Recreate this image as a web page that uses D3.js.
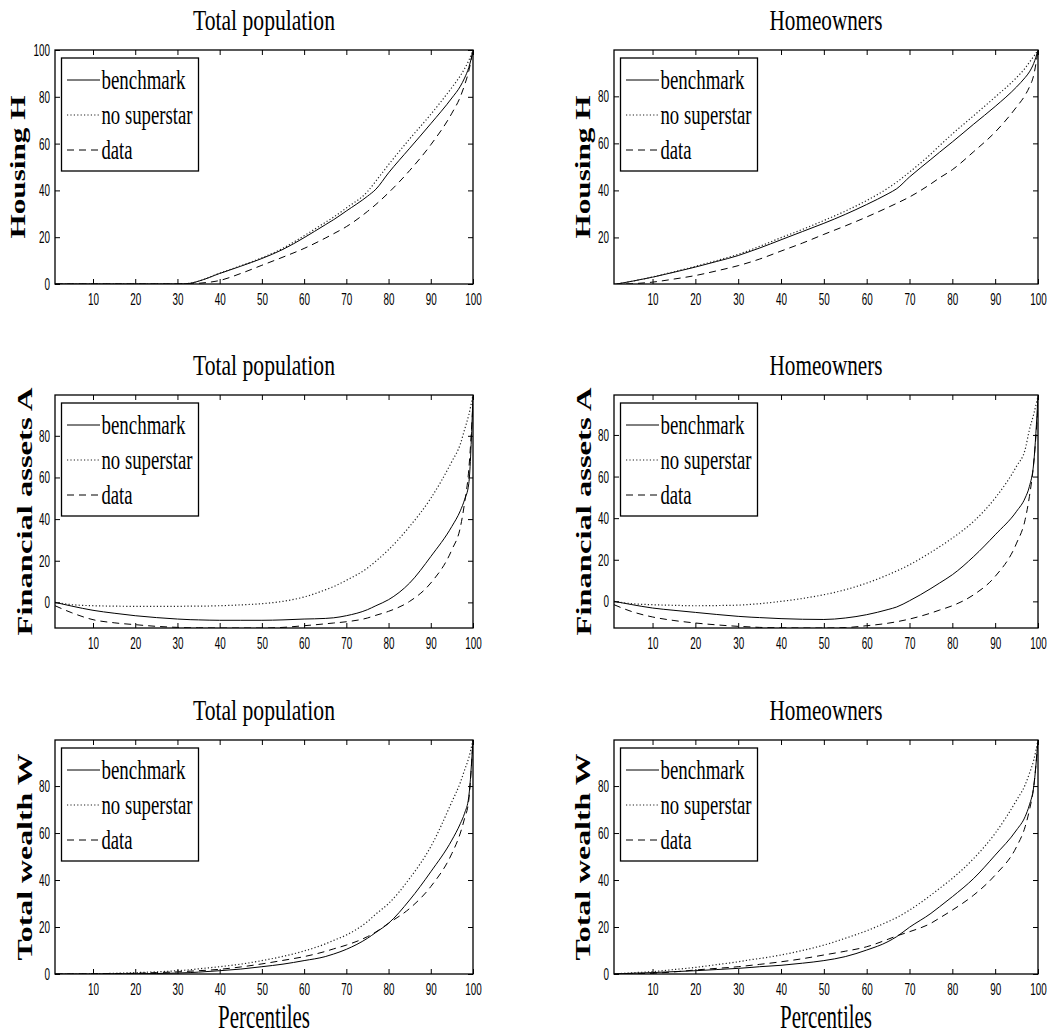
<!DOCTYPE html>
<html>
<head>
<meta charset="utf-8">
<script src="https://cdn.jsdelivr.net/npm/d3@7"></script>
<style>
  html, body { margin: 0; padding: 0; background: #fff; }
  svg { display: block; }
</style>
</head>
<body>
<svg id="chart" width="1052" height="1035"></svg>
<script>
// ---------------- DATA ----------------
const percentiles = [1, 5, 10, 15, 20, 25, 30, 33, 35, 40, 45, 50, 55, 60, 65, 67, 70, 75, 77, 80, 85, 90, 95, 97, 98, 99, 100];
const xTicks = [10, 20, 30, 40, 50, 60, 70, 80, 90, 100];
const seriesNames = ["benchmark", "no superstar", "data"];
const columnTitles = ["Total population", "Homeowners"];
const rowLabels = ["Housing H", "Financial assets A", "Total wealth W"];
const xLabel = "Percentiles";

// Housing, total population
const housingTotalBenchmark = [0, 0, 0, 0, 0, 0, 0, 0.3, 1.2, 4.5, 7.6, 10.9, 14.8, 19.8, 25.3, 27.5, 31.2, 37.5, 40.5, 47.5, 58, 68.5, 79.5, 84.5, 88, 92.5, 99.5];
const housingTotalNoSuperstar = [0, 0, 0, 0, 0, 0, 0, 0.3, 1.2, 4.6, 7.8, 11.2, 15.3, 20.6, 26.3, 28.6, 32.5, 39.5, 44, 51, 62, 72.5, 84, 89, 92, 95.5, 100];
const housingTotalData = [0, 0, 0, 0, 0, 0, 0, 0, 0.3, 1.5, 4.5, 8, 11.5, 15.2, 19.6, 21.5, 24.5, 31, 34, 39, 48.5, 59.5, 73, 80, 85, 91, 100];
// Housing, homeowners
const housingOwnBenchmark = [0, 1.3, 3.1, 5.2, 7.4, 9.8, 12.3, 14.2, 15.5, 19, 22.5, 26, 29.8, 34, 38.6, 40.7, 45.7, 53.2, 56.2, 60.6, 68.2, 75.7, 84, 88, 90.4, 94, 99.6];
const housingOwnNoSuperstar = [0, 1.3, 3.2, 5.4, 7.7, 10.2, 12.8, 14.8, 16.2, 19.9, 23.4, 27.2, 31.2, 35.7, 41, 43.5, 47.8, 55.5, 59, 64, 71.8, 79.7, 88, 92, 94.5, 97, 99.6];
const housingOwnData = [0, 0.3, 1, 2.3, 3.8, 5.8, 8, 9.6, 10.8, 14.2, 17.6, 21.3, 24.9, 28.7, 32.8, 34.5, 37.2, 42.8, 45.3, 48.8, 56.5, 64.8, 75.5, 80.5, 84, 89, 99.6];
// Financial assets, total population
const financialTotalBenchmark = [0, -1.8, -3.8, -5.2, -6.4, -7.3, -8, -8.3, -8.4, -8.6, -8.6, -8.6, -8.4, -8, -7.7, -7.4, -6.4, -3.5, -1.6, 1.3, 9.3, 22, 36.5, 44, 49.3, 57, 99];
const financialTotalNoSuperstar = [0, -1.1, -1.6, -1.8, -1.9, -1.9, -1.9, -1.8, -1.8, -1.6, -1.2, -0.6, 0.5, 2.6, 6, 7.6, 10.6, 16.5, 19.8, 25.3, 36.5, 50, 67.7, 76, 83, 90, 99.6];
const financialTotalData = [-1.6, -5, -8.3, -9.8, -10.7, -11.5, -12, -12.2, -12.2, -12.3, -12.3, -12.3, -12, -11.2, -10.3, -9.9, -9.3, -7.5, -6.2, -4.3, 0.5, 9.3, 25.3, 36, 47.7, 63.7, 95.7];
// Financial assets, homeowners
const financialOwnBenchmark = [0, -1.5, -3.2, -4.3, -5.3, -6.3, -7.2, -7.6, -7.8, -8.3, -8.6, -8.7, -8, -6.4, -3.9, -2.7, 0.3, 6.2, 8.8, 12.8, 21.6, 32, 43.3, 49.7, 55.3, 66.5, 98.6];
const financialOwnNoSuperstar = [0, -1.1, -1.6, -1.9, -2.1, -2, -1.8, -1.4, -1.1, 0, 1.4, 3.2, 5.6, 8.8, 12.8, 14.6, 17.6, 23.6, 26.2, 30.4, 38.5, 49.7, 65, 73, 82.5, 90, 98.6];
const financialOwnData = [-1.6, -4.8, -7.5, -9.2, -10.4, -11.3, -12, -12.3, -12.5, -12.7, -12.8, -12.8, -12.6, -11.7, -10.5, -9.8, -8.5, -5.6, -4.2, -2.1, 3.2, 12, 28, 39.3, 50.5, 66.5, 93.7];
// Total wealth, total population
const wealthTotalBenchmark = [0, 0, 0, 0.1, 0.1, 0.2, 0.4, 0.6, 0.8, 1.4, 2.1, 3.1, 4.2, 5.7, 7.4, 8.5, 10.5, 15.2, 17.7, 21.6, 31.5, 43.5, 57, 64, 68.4, 75.5, 99.6];
const wealthTotalNoSuperstar = [0, 0, 0.1, 0.3, 0.6, 0.9, 1.4, 1.8, 2.2, 3.1, 4.2, 5.7, 7.5, 9.8, 12.8, 14.3, 16.6, 22.3, 25.5, 30, 40.7, 54.2, 73.3, 81.5, 86.8, 92, 99.6];
const wealthTotalData = [0, 0, 0.1, 0.2, 0.3, 0.6, 0.9, 1.2, 1.4, 2, 3, 4.3, 5.8, 7.4, 9.6, 10.7, 12.3, 15.9, 17.9, 21.6, 27.9, 37.2, 51.3, 60, 66.2, 74, 99.6];
// Total wealth, homeowners
const wealthOwnBenchmark = [0, 0.3, 0.6, 1, 1.4, 1.9, 2.4, 2.8, 3.1, 3.7, 4.6, 5.7, 7.4, 10.2, 13.8, 15.9, 19.9, 25.8, 28.6, 32.9, 40.7, 50.6, 61.3, 67, 72, 79.7, 99.6];
const wealthOwnNoSuperstar = [0, 0.5, 1, 1.9, 2.8, 4, 5.2, 6.1, 6.6, 8.1, 10, 12.3, 15.2, 18.4, 22.3, 24, 27.2, 33.6, 36.4, 40.7, 49.2, 59.9, 74, 80.5, 85.4, 91, 99.6];
const wealthOwnData = [0, 0.1, 0.3, 0.9, 1.7, 2.4, 3.1, 3.7, 4.1, 5.2, 6.5, 8.1, 9.7, 11.6, 14.8, 16.2, 18, 21.6, 23.8, 27.2, 33.6, 42.1, 54.2, 62.7, 69.8, 79.7, 99.6];

// y-axis ranges and tick values per panel
const yDomains = [[0, 100], [0.2, 99.7], [-12.3, 99.6], [-12.8, 99.2], [0, 99.6], [0, 99.6]];
const yTickSets = [[0, 20, 40, 60, 80, 100], [20, 40, 60, 80], [0, 20, 40, 60, 80], [0, 20, 40, 60, 80], [0, 20, 40, 60, 80], [0, 20, 40, 60, 80]];

const panelSeries = [
  [housingTotalBenchmark, housingTotalNoSuperstar, housingTotalData],
  [housingOwnBenchmark, housingOwnNoSuperstar, housingOwnData],
  [financialTotalBenchmark, financialTotalNoSuperstar, financialTotalData],
  [financialOwnBenchmark, financialOwnNoSuperstar, financialOwnData],
  [wealthTotalBenchmark, wealthTotalNoSuperstar, wealthTotalData],
  [wealthOwnBenchmark, wealthOwnNoSuperstar, wealthOwnData]
];

// ---------------- LAYOUT ----------------
const colX = [[55, 473], [614, 1038]];
const rowY = [[50, 284], [395, 628], [740, 974]];
const dashes = [null, "1.2,2.2", "7,5"];
const ylabelOffset = [[30, 24], [23, 23], [23, 24]]; // baseline distance left of plot
const tickFont = "'Liberation Sans', Arial, sans-serif";
const serif = "'Liberation Serif', 'Times New Roman', serif";

const svg = d3.select("#chart");

function fitText(sel, len) {
  sel.attr("textLength", len).attr("lengthAdjust", "spacingAndGlyphs");
}

panelSeries.forEach((series, i) => {
  const r = Math.floor(i / 2), c = i % 2;
  const [x0, x1] = colX[c];
  const [y0, y1] = rowY[r];
  const w = x1 - x0, h = y1 - y0;
  const x = d3.scaleLinear().domain([1, 100]).range([0, w]);
  const y = d3.scaleLinear().domain(yDomains[i]).range([h, 0]);

  const g = svg.append("g").attr("transform", `translate(${x0},${y0})`);

  const clipId = "clip" + i;
  g.append("clipPath").attr("id", clipId).append("rect").attr("width", w).attr("height", h);

  // curves
  const line = d3.line().x((d, k) => x(percentiles[k])).y(d => y(d)).curve(d3.curveMonotoneX);
  series.forEach((vals, s) => {
    g.append("path")
      .datum(vals)
      .attr("clip-path", `url(#${clipId})`)
      .attr("fill", "none")
      .attr("stroke", s === 1 ? "#222" : "#000")
      .attr("stroke-width", s === 1 ? 1.2 : 1)
      .attr("stroke-dasharray", dashes[s])
      .attr("d", line);
  });

  // axes (ticks inward, MATLAB style)
  const styleAxis = (ax) => {
    ax.select(".domain").remove();
    ax.selectAll(".tick line").attr("stroke", "#000").attr("stroke-width", 1);
    ax.selectAll("text").attr("fill", "#000").style("font-family", tickFont).style("font-size", "17px");
  };
  const bottom = g.append("g").attr("transform", `translate(0,${h})`)
    .call(d3.axisBottom(x).tickValues(xTicks).tickSizeInner(-5).tickSizeOuter(0).tickPadding(9).tickFormat(d3.format("d")));
  styleAxis(bottom);
  bottom.selectAll("text").each(function(d) { fitText(d3.select(this), String(d).length * 5.5); });

  const top = g.append("g")
    .call(d3.axisTop(x).tickValues(xTicks).tickSizeInner(-5).tickSizeOuter(0).tickFormat(""));
  styleAxis(top);

  const left = g.append("g")
    .call(d3.axisLeft(y).tickValues(yTickSets[i]).tickSizeInner(-5).tickSizeOuter(0).tickPadding(5).tickFormat(d3.format("d")));
  styleAxis(left);
  left.selectAll("text").each(function(d) { fitText(d3.select(this), String(d).length * 5.5); });

  const right = g.append("g").attr("transform", `translate(${w},0)`)
    .call(d3.axisRight(y).tickValues(yTickSets[i]).tickSizeInner(-5).tickSizeOuter(0).tickFormat(""));
  styleAxis(right);

  // box
  g.append("rect").attr("width", w).attr("height", h)
    .attr("fill", "none").attr("stroke", "#000").attr("stroke-width", 1.3);

  // title
  const title = g.append("text")
    .attr("x", w / 2).attr("y", -20)
    .attr("text-anchor", "middle")
    .style("font-family", serif).style("font-size", "30px")
    .text(columnTitles[c]);
  fitText(title, c === 0 ? 142 : 113);

  // y label
  const ylabLens = [143, 248, 207];
  const yl = g.append("text")
    .attr("transform", `translate(${-ylabelOffset[r][c]},${h / 2}) rotate(-90)`)
    .attr("text-anchor", "middle")
    .style("font-family", serif).style("font-weight", "bold").style("font-size", "21px")
    .text(rowLabels[r]);
  fitText(yl, ylabLens[r]);

  // x label
  if (r === 2) {
    const xl = g.append("text")
      .attr("x", w / 2).attr("y", h + 54)
      .attr("text-anchor", "middle")
      .style("font-family", serif).style("font-size", "33px")
      .text(xLabel);
    fitText(xl, 92);
  }

  // legend
  const lg = g.append("g").attr("transform", "translate(6.5,8)");
  lg.append("rect").attr("width", 137).attr("height", 113)
    .attr("fill", "#fff").attr("stroke", "#000").attr("stroke-width", 1.3);
  const textLens = [84, 91, 31];
  seriesNames.forEach((name, s) => {
    const ly = 22 + s * 35;
    lg.append("line").attr("x1", 5.5).attr("x2", 38.5).attr("y1", ly).attr("y2", ly)
      .attr("stroke", s === 1 ? "#222" : "#000").attr("stroke-width", s === 1 ? 1.2 : 1)
      .attr("stroke-dasharray", dashes[s]);
    const t = lg.append("text").attr("x", 40).attr("y", ly + 9)
      .style("font-family", serif).style("font-size", "27px")
      .text(name);
    fitText(t, textLens[s]);
  });
});
</script>
</body>
</html>
